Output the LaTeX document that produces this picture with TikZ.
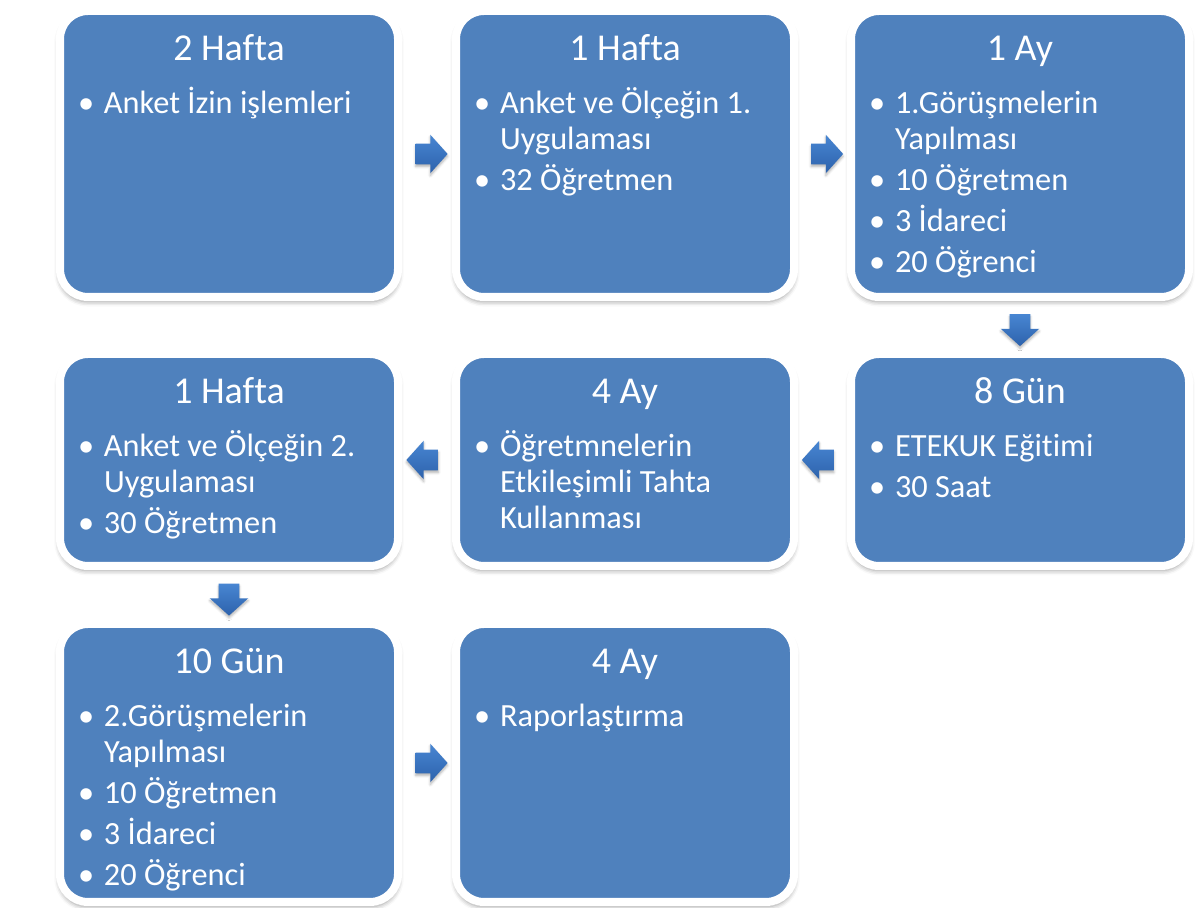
\documentclass[tikz,border=0pt]{standalone}
\usepackage{fontspec}
\setmainfont{Carlito}[Ligatures=NoCommon]
\usetikzlibrary{shapes.arrows,shadows.blur,calc}
\definecolor{boxblue}{HTML}{4F81BD}
\definecolor{arrowdark}{HTML}{2D62AC}
\definecolor{arrowlight}{HTML}{4886D2}

% one bullet line of a phase box
\newcommand\bitem[1]{\par\noindent\llap{\makebox[0.65cm][l]{•}}#1}
% box contents: height, title, bullets
\newcommand\phase[3]{\parbox[t][#1][t]{8.45cm}{\raggedright
    {\fontsize{27}{27}\selectfont\centering\rule{0pt}{1.25cm}#2\par}
    \vspace{8.5pt}
    \fontsize{23}{25.5}\selectfont\leftskip=1.1cm\parskip=3.6pt
    #3}}

\begin{document}
\begin{tikzpicture}[phasebox/.style={draw=white,line width=0.2cm,fill=boxblue,
        rounded corners=0.7cm,inner sep=0pt,text=white,
        blur shadow={shadow xshift=0pt,shadow yshift=-0.1cm,shadow opacity=40,
        shadow blur radius=0.12cm,shadow scale=1.005}},
    flow/.style={single arrow,draw=none,inner xsep=0pt,inner ysep=0.25cm,
        minimum height=0.8cm,single arrow head extend=0.225cm,
        single arrow tip angle=96,top color=arrowlight,bottom color=arrowdark,
        rotate=#1,blur shadow={shadow xshift=0pt,shadow yshift=-0.06cm,
        shadow opacity=30,shadow blur radius=0.06cm}}]
    \useasboundingbox (0,0) rectangle (29.875,22.7);

    % first row
    \node[phasebox] (izin) at (5.725,18.85)
        {\phase{7.15cm}{2 Hafta}{\bitem{Anket İzin işlemleri}}};
    \node[phasebox] (uyg1) at (15.625,18.85)
        {\phase{7.15cm}{1 Hafta}{\bitem{Anket ve Ölçeğin 1.\newline Uygulaması}
        \bitem{32 Öğretmen}}};
    \node[phasebox] (gorus1) at (25.5,18.85)
        {\phase{7.15cm}{1 Ay}{\bitem{1.Görüşmelerin\newline Yapılması}
        \bitem{10 Öğretmen}\bitem{3 İdareci}\bitem{20 Öğrenci}}};

    % second row, right to left
    \node[phasebox] (etekuk) at (25.5,11.2)
        {\phase{5.3cm}{8 Gün}{\bitem{ETEKUK Eğitimi}\bitem{30 Saat}}};
    \node[phasebox] (tahta) at (15.625,11.2)
        {\phase{5.3cm}{4 Ay}{\bitem{Öğretmnelerin\newline Etkileşimli Tahta\newline Kullanması}}};
    \node[phasebox] (uyg2) at (5.725,11.2)
        {\phase{5.3cm}{1 Hafta}{\bitem{Anket ve Ölçeğin 2.\newline Uygulaması}
        \bitem{30 Öğretmen}}};

    % third row
    \node[phasebox] (gorus2) at (5.725,3.625)
        {\phase{6.95cm}{10 Gün}{\bitem{2.Görüşmelerin\newline Yapılması}
        \bitem{10 Öğretmen}\bitem{3 İdareci}\bitem{20 Öğrenci}}};
    \node[phasebox] (rapor) at (15.625,3.625)
        {\phase{6.95cm}{4 Ay}{\bitem{Raporlaştırma}}};

    % the arrows between the boxes
    \node[flow=0] (a1) at ($(izin.east)!0.5!(uyg1.west)$) {};
    \node[flow=0] (a2) at ($(uyg1.east)!0.5!(gorus1.west)$) {};
    \node[flow=-90] (a3) at ($(gorus1.south)!0.5!(etekuk.north)$) {};
    \node[flow=180] (a4) at ($(etekuk.west)!0.5!(tahta.east)$) {};
    \node[flow=180] (a5) at ($(tahta.west)!0.5!(uyg2.east)$) {};
    \node[flow=-90] (a6) at ($(uyg2.south)!0.5!(gorus2.north)$) {};
    \node[flow=0] (a7) at ($(gorus2.east)!0.5!(rapor.west)$) {};
\end{tikzpicture}
\end{document}
